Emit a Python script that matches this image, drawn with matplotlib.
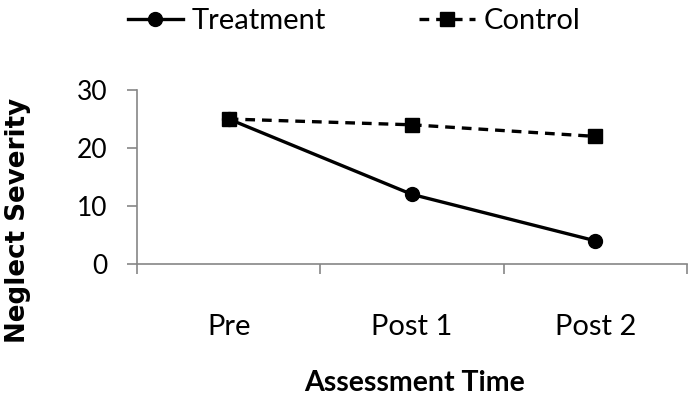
import matplotlib
matplotlib.use("Agg")
import matplotlib.pyplot as plt

categories = ["Pre", "Post 1", "Post 2"]
treatment = [25, 12, 4]
control = [25, 24, 22]
yticks = [0, 10, 20, 30]

plt.rcParams['font.family'] = ['Lato', 'DejaVu Sans']
plt.rcParams['lines.scale_dashes'] = False

W, H = 694, 404
fig = plt.figure(figsize=(W / 100, H / 100), dpi=100)
ax = fig.add_axes([137 / W, 1 - 264 / H, 550 / W, 174 / H])

x = list(range(len(categories)))
ax.plot(x, treatment, color='black', lw=2.4, marker='o', ms=10, label='Treatment', zorder=3)
ax.plot(x, control, color='black', lw=2.4, ls=(0, (7, 5)), marker='s', ms=10, label='Control', zorder=4)

ax.set_xlim(-0.5, 2.5)
ax.set_ylim(0, 30)
ax.set_yticks(yticks)
ax.set_xticks(x)
ax.set_xticklabels(categories)
ax.set_xticks([-0.5, 0.5, 1.5, 2.5], minor=True)

axis_col = '#868686'
for s in ['top', 'right']:
    ax.spines[s].set_visible(False)
for s in ['left', 'bottom']:
    ax.spines[s].set_color(axis_col)
    ax.spines[s].set_linewidth(1.2)
ax.tick_params(axis='y', direction='out', length=7, width=1.2, color=axis_col, labelsize=19, pad=14)
ax.tick_params(axis='x', which='major', length=0, labelsize=21, pad=36)
ax.tick_params(axis='x', which='minor', direction='out', length=7, width=1.2, color=axis_col)

fig.text(415 / W, 1 - 383 / H, 'Assessment Time', ha='center', va='center', fontsize=20.5, fontweight='bold')
fig.text(18 / W, 1 - 220 / H, 'Neglect Severity', ha='center', va='center', rotation=90,
         fontsize=18.8, fontweight='bold', family=['DejaVu Sans'])

leg = fig.legend(loc='center', bbox_to_anchor=(354 / W, 1 - 21 / H), ncol=2, frameon=False,
                 fontsize=21, handlelength=1.9, handletextpad=0.3, columnspacing=3.2,
                 borderpad=0, borderaxespad=0)

fig.savefig('out.png', dpi=100)
